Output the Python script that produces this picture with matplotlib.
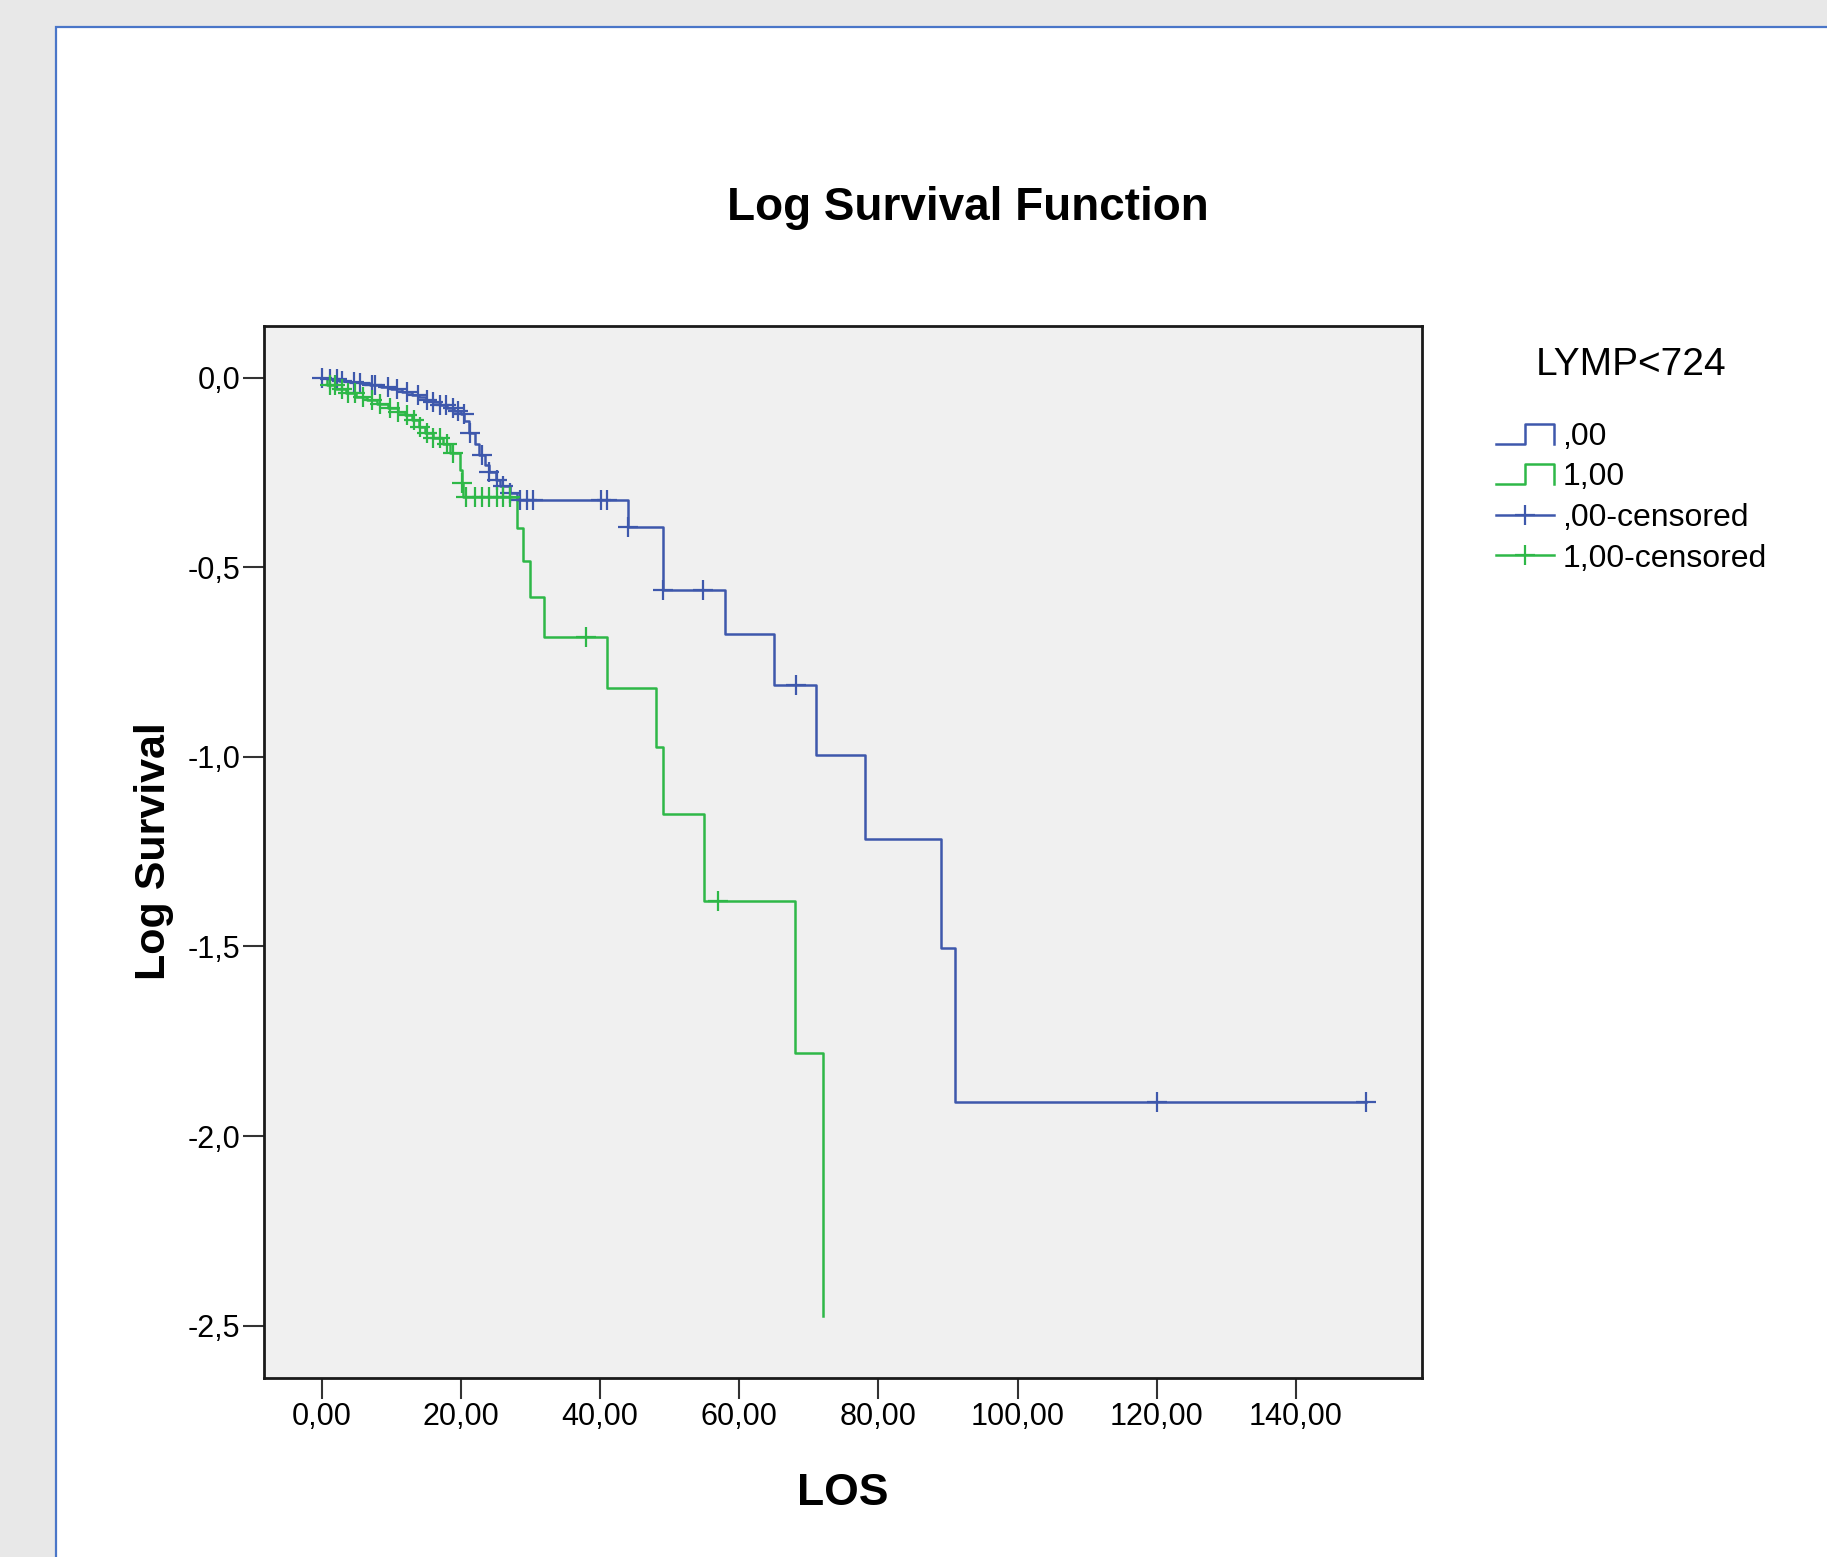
import matplotlib
matplotlib.use("Agg")
import matplotlib.pyplot as plt
import numpy as np
from matplotlib.legend_handler import HandlerBase
from matplotlib.lines import Line2D
from matplotlib.patches import Rectangle

plt.rcParams["font.family"] = ["Liberation Sans", "DejaVu Sans"]

# group ,00 (LYMP>=724) - event times and log survival after each event
BLUE_EVENT_T = [0, 1.0, 2.5, 4.0, 5.5, 7.0, 8.5, 10.0, 11.5, 13.0, 14.0, 15.0, 16.0, 17.0,
                18.0, 19.0, 20.0, 20.5, 21.2, 22.0, 22.6, 23.5, 24.0, 25.0, 25.6, 27.0, 28.0,
                44.0, 49.0, 58.0, 65.0, 71.0, 78.0, 89.0, 91.0]
BLUE_LOGS = [0, -0.004, -0.008, -0.011, -0.014, -0.019, -0.025, -0.031, -0.038, -0.045,
             -0.052, -0.058, -0.064, -0.072, -0.080, -0.088, -0.097, -0.115, -0.145, -0.175,
             -0.205, -0.23, -0.25, -0.27, -0.285, -0.305, -0.323, -0.394, -0.561, -0.677,
             -0.811, -0.996, -1.216, -1.503, -1.909]
BLUE_CENSOR_T = [0.0, 1.2, 2.2, 2.9, 4.6, 5.5, 7.2, 7.7, 9.6, 10.8, 12.2, 13.9, 15.1, 16.0,
                 17.0, 17.9, 18.9, 19.6, 20.4, 21.3, 23.0, 24.0, 25.2, 26.1, 27.1, 28.5,
                 29.5, 30.4, 40.1, 41.0, 44.0, 49.0, 54.8, 68.1, 120.0, 150.0]

# group 1,00 (LYMP<724)
GREEN_EVENT_T = [0, 0.8, 2.0, 3.5, 5.0, 6.5, 8.0, 9.5, 11.0, 12.0, 13.0, 14.0, 14.8, 16.0,
                 17.5, 18.5, 19.9, 20.1, 20.3, 28.0, 29.0, 30.0, 32.0, 41.0, 48.0, 49.0,
                 55.0, 68.0, 72.0]
GREEN_LOGS = [0, -0.02, -0.03, -0.04, -0.05, -0.06, -0.07, -0.08, -0.09, -0.10, -0.113,
              -0.13, -0.147, -0.16, -0.175, -0.2, -0.243, -0.277, -0.314, -0.397, -0.483,
              -0.579, -0.683, -0.819, -0.973, -1.151, -1.380, -1.782, -2.474]
GREEN_CENSOR_T = [1.2, 1.9, 2.9, 3.8, 4.8, 6.0, 7.2, 8.4, 9.8, 11.0, 12.2, 13.2, 14.1, 15.1,
                  16.0, 17.0, 18.0, 18.9, 20.1, 20.8, 22.0, 23.0, 24.0, 25.2, 26.1, 27.1,
                  38.0, 57.0]

GROUP_LABELS = [",00", "1,00"]
LEGEND_TITLE = "LYMP<724"
X_TICKS = [0, 20, 40, 60, 80, 100, 120, 140]
Y_TICKS = [0.0, -0.5, -1.0, -1.5, -2.0, -2.5]

BLUE = "#3E58AC"
GREEN = "#2EB848"
LW = 1.8
W, H = 1827, 1557


class StepHandler(HandlerBase):
    def create_artists(self, legend, orig_handle, xdescent, ydescent, width, height, fontsize, trans):
        x0 = -xdescent
        y0 = -ydescent + 0.05 * height
        y1 = -ydescent + 0.95 * height
        xs = [x0, x0 + 0.5 * width, x0 + 0.5 * width, x0 + width, x0 + width]
        ys = [y0, y0, y1, y1, y0]
        line = Line2D(xs, ys, color=orig_handle.get_color(), lw=orig_handle.get_linewidth())
        line.set_transform(trans)
        return [line]


def step_value(times, logs, t):
    idx = np.searchsorted(np.asarray(times), t, side="right") - 1
    return np.asarray(logs)[idx]


def draw_group(ax, times, logs, cens, color):
    t = np.asarray(times, dtype=float)
    s = np.asarray(logs, dtype=float)
    c = np.asarray(cens, dtype=float)
    end = max(t[-1], c.max())
    if end > t[-1]:
        t = np.append(t, end)
        s = np.append(s, s[-1])
    ax.step(t, s, where="post", color=color, lw=LW, zorder=3)
    ax.plot(c, step_value(times, logs, c), ls="none", marker="+", ms=15, mew=1.6,
            color=color, zorder=4)


fig = plt.figure(figsize=(W / 100, H / 100), dpi=100)
fig.patch.set_facecolor("#E8E8E8")
fig.add_artist(Rectangle((55.5 / W, -0.05), 1.2, 1.05 - 27.5 / H, transform=fig.transFigure,
                         facecolor="white", edgecolor="#4A76C8", lw=1.6, zorder=0))

ax = fig.add_axes([264 / W, 1 - 1378 / H, (1422 - 264) / W, (1378 - 326) / H])
ax.set_facecolor("#F0F0F0")

draw_group(ax, BLUE_EVENT_T, BLUE_LOGS, BLUE_CENSOR_T, BLUE)
draw_group(ax, GREEN_EVENT_T, GREEN_LOGS, GREEN_CENSOR_T, GREEN)

ax.set_xlim(-8.28, 158.1)
ax.set_ylim(-2.638, 0.136)
ax.set_xticks(X_TICKS)
ax.set_xticklabels([f"{v:.2f}".replace(".", ",") for v in X_TICKS])
ax.set_yticks(Y_TICKS)
ax.set_yticklabels([f"{v:.1f}".replace(".", ",") for v in Y_TICKS])
ax.tick_params(length=15, width=1.5, color="#333333", labelsize=22, pad=2)
for sp in ax.spines.values():
    sp.set_linewidth(2.0)
    sp.set_color("#1A1A1A")

ax.set_xlabel("LOS", fontsize=32, fontweight="bold", va="center")
ax.xaxis.set_label_coords(0.5, -0.11)
ax.set_ylabel("Log Survival", fontsize=31, fontweight="bold", va="center", ha="center")
ax.yaxis.set_label_coords(-0.095, 0.501)

fig.text(968 / W, 1 - 208 / H, "Log Survival Function", fontsize=33, fontweight="bold",
         ha="center", va="center")

h_blue = Line2D([], [], color=BLUE, lw=LW)
h_green = Line2D([], [], color=GREEN, lw=LW)
h_bc = Line2D([], [], color=BLUE, lw=LW, marker="+", ms=15, mew=1.6)
h_gc = Line2D([], [], color=GREEN, lw=LW, marker="+", ms=15, mew=1.6)
leg = fig.legend([h_blue, h_green, h_bc, h_gc],
                 [GROUP_LABELS[0], GROUP_LABELS[1], GROUP_LABELS[0] + "-censored",
                  GROUP_LABELS[1] + "-censored"],
                 title=LEGEND_TITLE, title_fontsize=28, fontsize=23,
                 loc="upper left", bbox_to_anchor=(1496 / W, 1 - 347 / H),
                 frameon=False, borderpad=0, borderaxespad=0, handlelength=1.8,
                 handletextpad=0.28, labelspacing=0.33, numpoints=1,
                 handler_map={h_blue: StepHandler(), h_green: StepHandler()})
leg._legend_box.sep = 28

fig.savefig("out.png", dpi=100, facecolor=fig.get_facecolor())
